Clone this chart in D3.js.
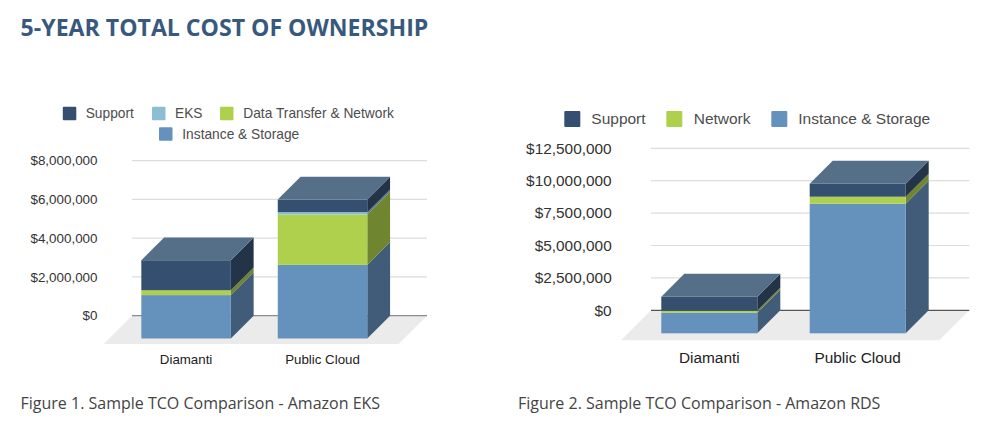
<!DOCTYPE html>
<html><head><meta charset="utf-8">
<script src="https://cdn.jsdelivr.net/npm/d3@7/dist/d3.min.js"></script>
<style>html,body{margin:0;padding:0;background:#fff}svg{display:block}</style>
</head><body><svg id="c" width="1000" height="434"></svg>
<script>
const categories = ["Diamanti", "Public Cloud"];
const eksSeries = ["Instance & Storage", "Data Transfer & Network", "EKS", "Support"];
const eksInstance = [2240000, 3800000];
const eksNetwork = [250000, 2600000];
const eksEks = [0, 120000];
const eksSupport = [1550000, 650000];
const eksTicks = [0, 2000000, 4000000, 6000000, 8000000];
const rdsSeries = ["Instance & Storage", "Network", "Support"];
const rdsInstance = [1590000, 10000000];
const rdsNetwork = [150000, 540000];
const rdsSupport = [1080000, 1000000];
const rdsTicks = [0, 2500000, 5000000, 7500000, 10000000, 12500000];

const palette = {
  "Instance & Storage": {front:"#6492bd", side:"#415c78"},
  "Data Transfer & Network": {front:"#afd04c", side:"#708530"},
  "Network": {front:"#afd04c", side:"#708530"},
  "EKS": {front:"#8bbdd3", side:"#597a88"},
  "Support": {front:"#344f70", side:"#233449", top:"#546f87"}
};
const fmt = v => "$" + d3.format(",")(v);
const svg = d3.select("#c");
const SANS = "'Liberation Sans', Arial, sans-serif";

svg.append("text").attr("x",20.6).attr("y",35.5).attr("font-family","'Open Sans'").attr("font-weight",700)
  .attr("font-size",23.1).attr("fill","#38597d").text("5-YEAR TOTAL COST OF OWNERSHIP");

function chart(o){
  const g = svg.append("g");
  const y = d3.scaleLinear().domain([0,o.max]).range(o.yRange);
  const x = d3.scaleBand().domain(categories).range(o.xRange).paddingInner(o.pad).paddingOuter(o.pad/2);
  const [gx0,gx1] = o.grid;
  const y0 = y(0), d = o.depth;
  g.append("path").attr("fill","#ebebeb")
    .attr("d",d3.line()([[gx0,y0],[gx1,y0],[gx1-o.floor,y0+o.floor],[gx0-o.floor,y0+o.floor]])+"Z");
  g.selectAll("line.g").data(o.ticks).join("line")
    .attr("x1",gx0).attr("x2",gx1).attr("y1",y).attr("y2",y)
    .attr("stroke",t=>t===0?o.zero:"#dcdcdc").attr("stroke-width",1.2);
  g.selectAll("text.t").data(o.ticks).join("text")
    .attr("x",o.tickX).attr("y",y).attr("dy","0.35em").attr("text-anchor","end")
    .attr("font-family",SANS).attr("font-size",o.fs).attr("fill","#333").text(fmt);
  categories.forEach((c,i)=>{
    const x0 = x(c), x1 = x0+x.bandwidth();
    let acc = 0;
    o.layers.forEach((l,k)=>{
      const v = l.values[i], a = acc, b = acc+v; acc = b;
      if(!v) return;
      const p = palette[l.name];
      const ya = y(a)+d, yb = y(b)+d;
      g.append("path").attr("fill",p.side)
        .attr("d",d3.line()([[x1,ya],[x1+d,ya-d],[x1+d,yb-d],[x1,yb]])+"Z");
      g.append("rect").attr("x",x0).attr("y",yb).attr("width",x1-x0).attr("height",ya-yb).attr("fill",p.front);
      if(k===o.layers.length-1){
        g.append("path").attr("fill",p.top)
          .attr("d",d3.line()([[x0,yb],[x1,yb],[x1+d,yb-d],[x0+d,yb-d]])+"Z");
      }
    });
    g.append("text").attr("x",x0+x.bandwidth()/2).attr("y",o.catY).attr("dy","0.35em").attr("text-anchor","middle")
      .attr("font-family",SANS).attr("font-size",o.catFs).attr("fill","#222").text(c);
  });
  o.legend.forEach(l=>{
    g.append("rect").attr("x",l.x).attr("y",l.y-o.sw/2).attr("width",o.sw).attr("height",o.sw).attr("rx",1).attr("fill",palette[l.name].front);
    g.append("text").attr("x",l.tx).attr("y",l.y).attr("dy","0.35em").attr("font-family",SANS)
      .attr("font-size",o.legFs).attr("fill","#4d4d4d").text(l.name);
  });
  g.append("text").attr("x",o.capX).attr("y",409).attr("font-family","'Open Sans'").attr("font-size",16)
    .attr("fill","#444").text(o.caption);
}

chart({max:8000000,yRange:[315.7,160.7],xRange:[117.85,390.75],pad:.344,grid:[132,427],depth:22.8,floor:28.3,
  ticks:eksTicks,zero:"#8c8c8c",tickX:97.5,fs:13.4,catY:359,catFs:13.3,legFs:13.75,sw:13.5,
  layers:[{name:eksSeries[0],values:eksInstance},{name:eksSeries[1],values:eksNetwork},{name:eksSeries[2],values:eksEks},{name:eksSeries[3],values:eksSupport}],
  legend:[{name:"Support",x:62.8,tx:85.7,y:113.5},{name:"EKS",x:152,tx:175,y:113.5},{name:"Data Transfer & Network",x:220,tx:243.3,y:113.5},{name:"Instance & Storage",x:159,tx:182.3,y:134}],
  capX:20.5,caption:"Figure 1. Sample TCO Comparison - Amazon EKS"});

chart({max:12500000,yRange:[310.3,148.3],xRange:[635.1,931.9],pad:.353,grid:[651,969.3],depth:23,floor:30,
  ticks:rdsTicks,zero:"#555555",tickX:611.7,fs:15.4,catY:358,catFs:15.4,legFs:15.5,sw:16,
  layers:[{name:rdsSeries[0],values:rdsInstance},{name:rdsSeries[1],values:rdsNetwork},{name:rdsSeries[2],values:rdsSupport}],
  legend:[{name:"Support",x:564.3,tx:591.3,y:119},{name:"Network",x:666.3,tx:693.7,y:119},{name:"Instance & Storage",x:771.3,tx:798.3,y:119}],
  capX:518,caption:"Figure 2. Sample TCO Comparison - Amazon RDS"});
</script></body></html>
